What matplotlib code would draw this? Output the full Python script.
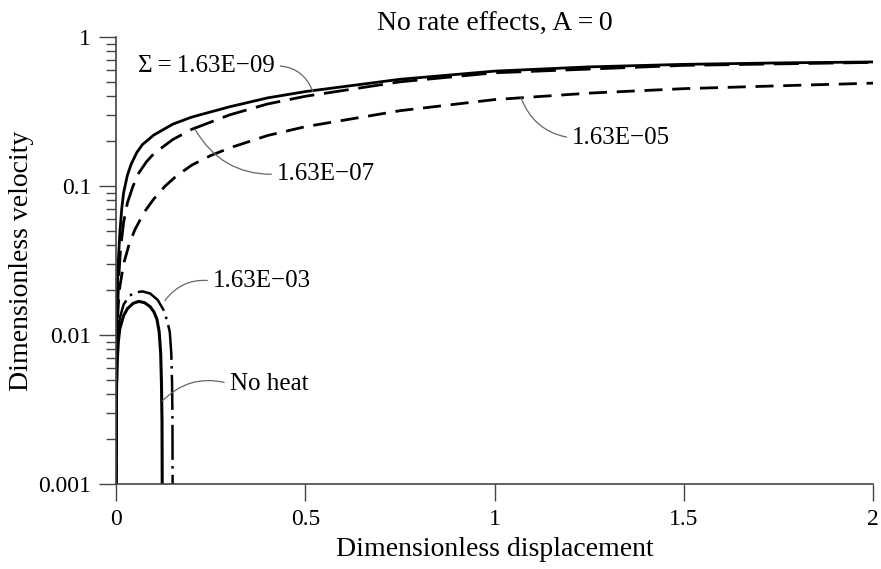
import matplotlib
matplotlib.use("Agg")
import matplotlib.pyplot as plt
from matplotlib.ticker import FixedLocator, FuncFormatter, LogLocator, NullFormatter

plt.rcParams['font.family'] = ['Liberation Serif', 'DejaVu Serif']

# Sigma = 1.63E-09 (solid)
x_e09 = [0, 0.002, 0.005, 0.01, 0.015, 0.02, 0.03, 0.04, 0.055, 0.07, 0.1, 0.15, 0.2, 0.3, 0.4, 0.5,
         0.75, 1.0, 1.25, 1.5, 1.75, 2.0]
v_e09 = [0.001, 0.012, 0.028, 0.048, 0.07, 0.09, 0.118, 0.14, 0.168, 0.19, 0.22, 0.26, 0.29, 0.34, 0.39, 0.43,
         0.52, 0.59, 0.63, 0.655, 0.67, 0.68]

# Sigma = 1.63E-07 (long dash)
x_e07 = [0, 0.003, 0.007, 0.012, 0.02, 0.03, 0.045, 0.06, 0.08, 0.1, 0.15, 0.2, 0.3, 0.4, 0.5,
         0.75, 1.0, 1.5, 2.0]
v_e07 = [0.001, 0.012, 0.024, 0.038, 0.057, 0.077, 0.1, 0.122, 0.145, 0.165, 0.205, 0.24, 0.3, 0.355, 0.4,
         0.5, 0.575, 0.645, 0.675]

# Sigma = 1.63E-05 (dash)
x_e05 = [0, 0.001, 0.003, 0.006, 0.01, 0.02, 0.035, 0.05, 0.075, 0.1, 0.13, 0.16, 0.2, 0.25, 0.3, 0.4, 0.5,
         0.75, 1.0, 1.25, 1.5, 1.75, 2.0]
v_e05 = [0.001, 0.006, 0.011, 0.016, 0.021, 0.03, 0.041, 0.051, 0.067, 0.082, 0.1, 0.117, 0.138, 0.16, 0.18,
         0.218, 0.25, 0.32, 0.38, 0.42, 0.45, 0.47, 0.49]

# Sigma = 1.63E-03 (dash-dot)
x_e03 = [0, 0.001, 0.003, 0.006, 0.01, 0.02, 0.035, 0.05, 0.07, 0.09, 0.11, 0.125, 0.135, 0.142, 0.146, 0.148, 0.149, 0.1495]
v_e03 = [0.001, 0.005, 0.008, 0.011, 0.013, 0.016, 0.0183, 0.0193, 0.0196, 0.019, 0.0172, 0.0148, 0.0125, 0.0105, 0.0075, 0.0048, 0.003, 0.001]

# No heat (solid)
x_noheat = [0, 0.001, 0.003, 0.006, 0.01, 0.02, 0.03, 0.045, 0.06, 0.075, 0.09, 0.1, 0.108, 0.114, 0.118, 0.12, 0.1215, 0.122]
v_noheat = [0.001, 0.004, 0.0065, 0.009, 0.011, 0.0135, 0.015, 0.0163, 0.0168, 0.0165, 0.0155, 0.0143, 0.0128, 0.0105, 0.0075, 0.0048, 0.0026, 0.001]

x_ticks = [0, 0.5, 1, 1.5, 2]
y_ticks = [0.001, 0.01, 0.1, 1]


def main():
    fig = plt.figure(figsize=(8.81, 5.69), dpi=100)
    ax = fig.add_axes([0.1317, 0.1494, 0.8593, 0.7856])

    ax.plot(x_e09, v_e09, color='black', lw=2.0, solid_capstyle='butt')
    ax.plot(x_e07, v_e07, color='black', lw=2.0, dashes=(9, 3.5))
    ax.plot(x_e05, v_e05, color='black', lw=2.0, dashes=(6.5, 3.5))
    ax.plot(x_e03, v_e03, color='black', lw=1.8, dashes=(14, 2.5, 1, 2.5))
    ax.plot(x_noheat, v_noheat, color='black', lw=2.2)

    ax.set_yscale('log')
    ax.set_xlim(0, 2)
    ax.set_ylim(0.001, 1)

    ax.xaxis.set_major_locator(FixedLocator(x_ticks))
    ax.xaxis.set_major_formatter(FuncFormatter(lambda v, p: '%g' % v))
    ax.yaxis.set_major_locator(FixedLocator(y_ticks))
    ax.yaxis.set_major_formatter(FuncFormatter(lambda v, p: '%g' % v))
    ax.yaxis.set_minor_locator(LogLocator(base=10, subs=range(2, 10)))
    ax.yaxis.set_minor_formatter(NullFormatter())

    for side in ['top', 'right']:
        ax.spines[side].set_visible(False)
    for side in ['left', 'bottom']:
        ax.spines[side].set_color('#444444')
        ax.spines[side].set_linewidth(1.2)

    ax.tick_params(which='major', direction='out', length=12, width=1, color='#444444',
                   labelsize=17, pad=6)
    ax.tick_params(which='minor', direction='out', length=7, width=1, color='#444444')

    ax.set_xlabel('Dimensionless displacement', fontsize=20, labelpad=5)
    ax.set_ylabel('Dimensionless velocity', fontsize=20)
    ax.yaxis.set_label_coords(-0.108, 0.5)
    ax.set_title('No rate effects, A\u2009=\u20090', fontsize=20, pad=3)

    lead = dict(arrowstyle='-', color='#666666', lw=0.9, shrinkA=2, shrinkB=0)

    ax.annotate('\u03a3\u2009=\u20091.63E\u221209', xy=(0.52, 0.43), xytext=(0.058, 0.64),
                ha='left', va='center', fontsize=18,
                arrowprops=dict(connectionstyle='arc3,rad=-0.35', relpos=(1, 0.5), **lead))
    ax.annotate('1.63E\u221207', xy=(0.21, 0.237), xytext=(0.425, 0.12),
                ha='left', va='center', fontsize=18,
                arrowprops=dict(connectionstyle='arc3,rad=-0.3', relpos=(0, 0.5), **lead))
    ax.annotate('1.63E\u221205', xy=(1.07, 0.39), xytext=(1.205, 0.21),
                ha='left', va='center', fontsize=18,
                arrowprops=dict(connectionstyle='arc3,rad=-0.3', relpos=(0, 0.5), **lead))
    ax.annotate('1.63E\u221203', xy=(0.129, 0.017), xytext=(0.256, 0.023),
                ha='left', va='center', fontsize=18,
                arrowprops=dict(connectionstyle='arc3,rad=0.3', relpos=(0, 0.5), **lead))
    ax.annotate('No heat', xy=(0.122, 0.0036), xytext=(0.30, 0.0047),
                ha='left', va='center', fontsize=18,
                arrowprops=dict(connectionstyle='arc3,rad=0.3', relpos=(0, 0.5), **lead))

    fig.savefig('out.png', dpi=100)


if __name__ == '__main__':
    main()
